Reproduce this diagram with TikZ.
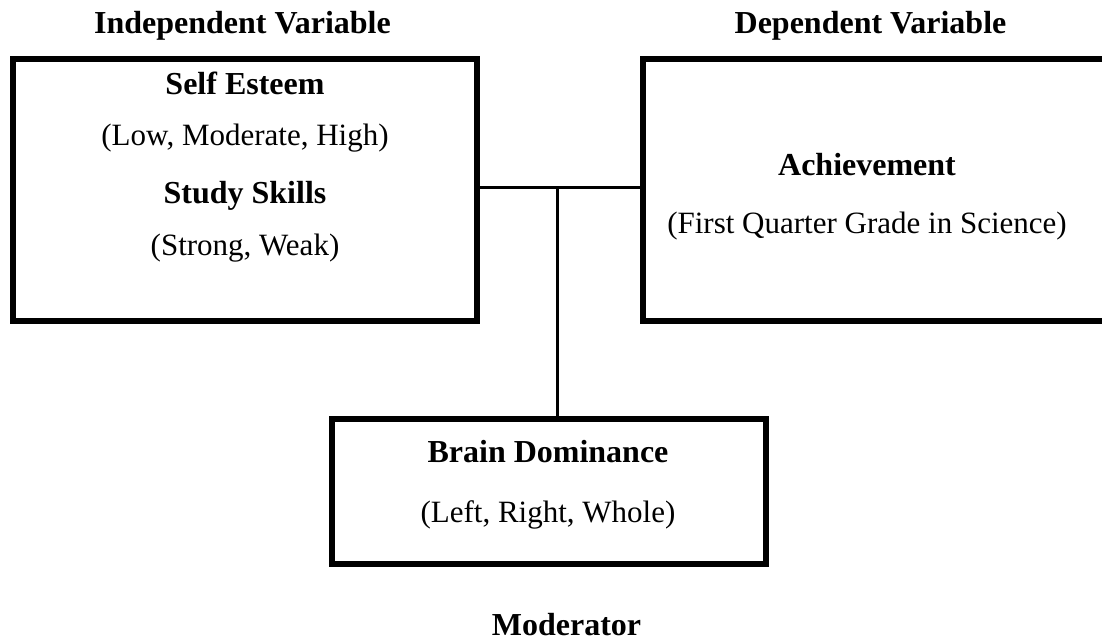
\documentclass[tikz,border=0pt]{standalone}
\usepackage{fontspec}
\setmainfont{Liberation Serif}
\begin{document}
\begin{tikzpicture}[x=1pt,y=-1pt,
  box/.style={draw=black,line width=6pt,inner sep=0pt,fill=none},
  conn/.style={draw=black,line width=3.5pt},
  head/.style={anchor=base,inner sep=0pt,font=\fontsize{32}{38}\selectfont\bfseries},
  sub/.style={anchor=base,inner sep=0pt,font=\fontsize{31}{37}\selectfont}]
\clip (0,0) rectangle (1102,640);
\fill[white] (0,0) rectangle (1102,640);
% boxes
\node[box,minimum width=464pt,minimum height=262pt] (left) at (245,190) {};
\node[box,minimum width=467pt,minimum height=262pt] (right) at (876.5,190) {};
\node[box,minimum width=434pt,minimum height=145pt] (bot) at (549,491.5) {};
% connectors
\coordinate (j) at (557.5,187.5);
\draw[conn] (left.east |- j) -- (right.west |- j);
\draw[conn] (j) -- (bot.north -| j);
% titles
\node[head] (tiv) at (242.5,33) {Independent Variable};
\node[head] (tdv) at (870.5,33) {Dependent Variable};
\node[head] (tmod) at (566.5,635) {Moderator};
% left box text
\node[head] (se) at (245,94) {Self Esteem};
\node[sub] (sel) at (245,145) {(Low, Moderate, High)};
\node[head] (ss) at (245,203) {Study Skills};
\node[sub] (ssl) at (245,255) {(Strong, Weak)};
% right box text
\node[head] (ach) at (867,175) {Achievement};
\node[sub] (achl) at (867,233) {(First Quarter Grade in Science)};
% bottom box text
\node[head] (bd) at (548,462) {Brain Dominance};
\node[sub] (bdl) at (548,522) {(Left, Right, Whole)};
\end{tikzpicture}
\end{document}
